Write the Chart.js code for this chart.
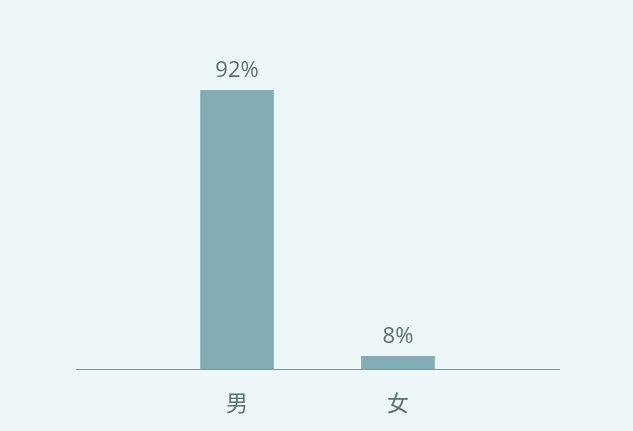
<!DOCTYPE html>
<html>
<head>
<meta charset="utf-8">
<script src="https://cdn.jsdelivr.net/npm/chart.js@4"></script>
<style>
  html, body { margin: 0; padding: 0; background: #eef7f7; }
  #wrap { width: 633px; height: 431px; }
</style>
</head>
<body>
<div id="wrap"><canvas id="genderChart" width="633" height="431"></canvas></div>
<script>
// Chart data
const categories = ["男", "女"];
const shares = [92, 8];
const shareLabels = ["92%", "8%"];

// Empty slots on both sides keep the bars near the middle of the long baseline
const axisLabels = ["", ...categories, ""];
const axisValues = [null, ...shares, null];
const axisTexts = [null, ...shareLabels, null];

const textColor = "#5b6f73";
const barColor = "#82adb4";

// Draws the percentage text above each bar
const valueLabels = {
    id: "valueLabels",
    afterDatasetsDraw(chart) {
        const ctx = chart.ctx;
        const meta = chart.getDatasetMeta(0);
        ctx.save();
        ctx.font = "22px 'Open Sans', 'Noto Sans', sans-serif";
        ctx.fillStyle = textColor;
        ctx.textAlign = "center";
        ctx.textBaseline = "bottom";
        meta.data.forEach((bar, i) => {
            if (axisTexts[i] == null) return;
            ctx.fillText(axisTexts[i], bar.x, bar.y - 9);
        });
        ctx.restore();
    },
};

new Chart("genderChart", {
    type: "bar",
    data: {
        labels: axisLabels,
        datasets: [
            {
                data: axisValues,
                backgroundColor: barColor,
                borderWidth: 0,
                barThickness: 73,
            },
        ],
    },
    options: {
        responsive: false,
        animation: false,
        layout: { padding: { top: 65, left: 76, right: 74, bottom: 0 } },
        scales: {
            x: {
                offset: false,
                grid: { display: false, drawTicks: false },
                border: { display: true, color: "#7a989d", width: 1 },
                ticks: {
                    padding: 20,
                    color: textColor,
                    font: { size: 22, family: "'Noto Sans CJK SC', 'Noto Sans', sans-serif" },
                },
                afterFit(scale) {
                    scale.height = 62;
                },
            },
            y: {
                display: false,
                min: 4,
                max: 100,
            },
        },
        plugins: {
            legend: { display: false },
            tooltip: { enabled: false },
        },
    },
    plugins: [valueLabels],
});
</script>
</body>
</html>
